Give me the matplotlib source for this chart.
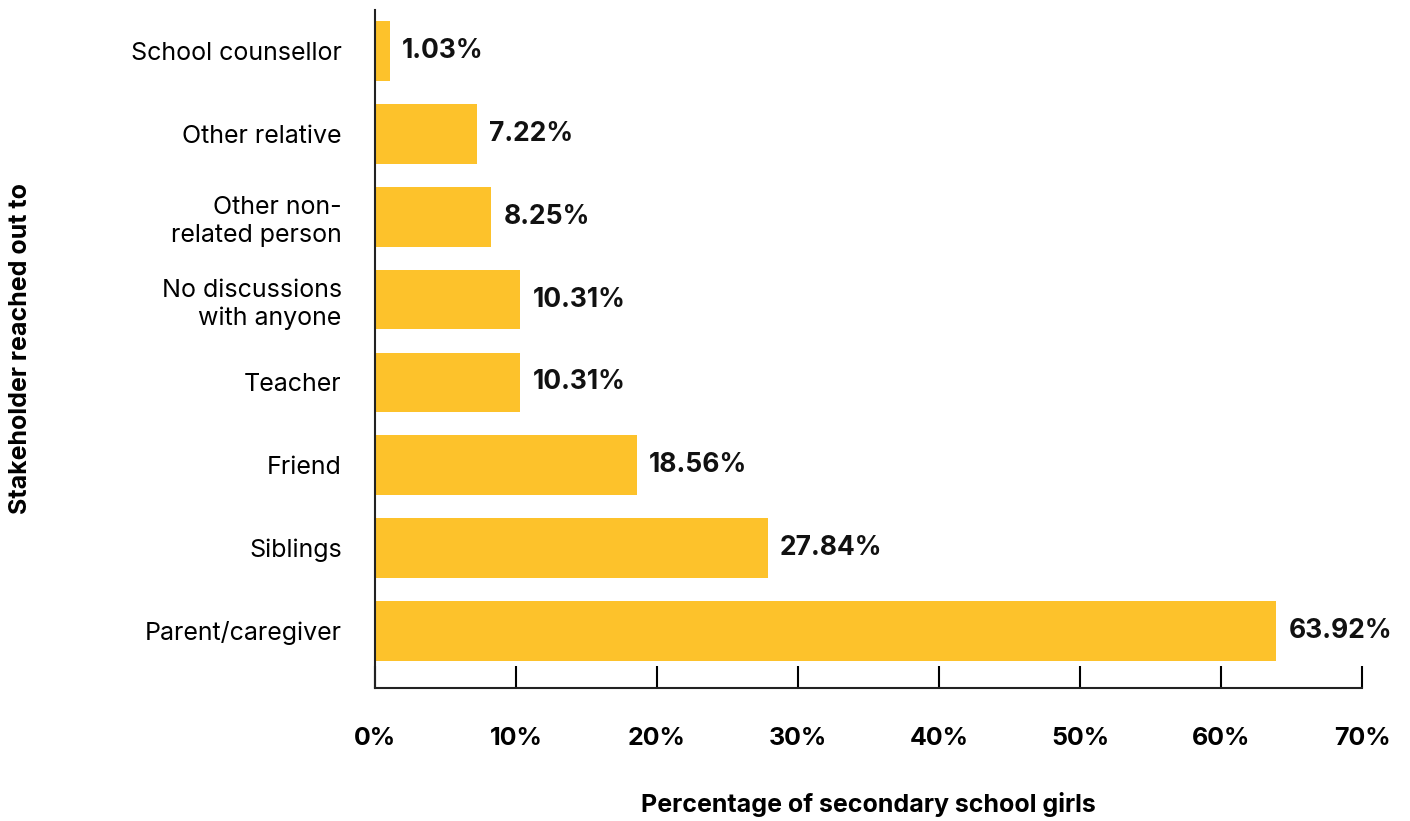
import matplotlib
matplotlib.use("Agg")
import matplotlib.pyplot as plt

plt.rcParams['font.family'] = ['Inter', 'DejaVu Sans']

# bottom to top
categories = ["Parent/caregiver", "Siblings", "Friend", "Teacher",
              "No discussions\nwith anyone", "Other non-\nrelated person",
              "Other relative", "School counsellor"]
values = [63.92, 27.84, 18.56, 10.31, 10.31, 8.25, 7.22, 1.03]
xticks = [0, 10, 20, 30, 40, 50, 60, 70]

fig = plt.figure(figsize=(14.1, 8.21), dpi=100)
ax = fig.add_axes([0.266, 0.162, 0.7, 0.826])

ypos = range(len(categories))
ax.barh(ypos, values, height=0.72, color="#FDC22B")

for y, v in zip(ypos, values):
    ax.text(v + 0.85, y, f"{v:.2f}%", va="center", ha="left",
            fontsize=19, fontweight="bold", color="#111111")

ax.set_yticks(list(ypos))
ax.set_yticklabels(categories, fontsize=18, linespacing=1.25)
ax.tick_params(axis="y", length=0, pad=24)

ax.set_xlim(0, 70)
ax.set_ylim(-0.69, 7.5)
ax.set_xticks(xticks)
ax.set_xticklabels([f"{t}%" for t in xticks], fontsize=18, fontweight="bold")
ax.tick_params(axis="x", direction="in", length=16, width=1.5, pad=28)

for s in ["top", "right"]:
    ax.spines[s].set_visible(False)
for s in ["left", "bottom"]:
    ax.spines[s].set_linewidth(1.5)
    ax.spines[s].set_color("#222222")

ax.set_xlabel("Percentage of secondary school girls", fontsize=18,
              fontweight="bold", labelpad=30)
ax.set_ylabel("Stakeholder reached out to", fontsize=18, fontweight="bold")
ax.yaxis.set_label_coords(-0.348, 0.5)

fig.savefig("out.png", dpi=100)
